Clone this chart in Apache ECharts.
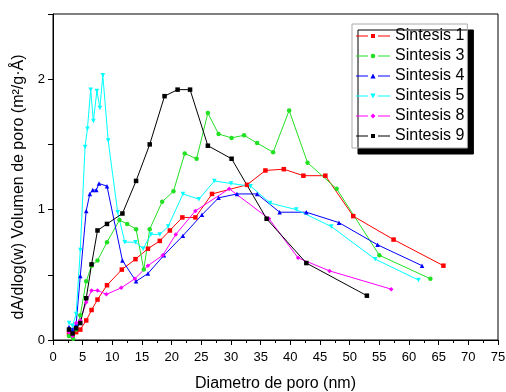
<!DOCTYPE html>
<html>
<head>
<meta charset="utf-8">
<script src="https://cdn.jsdelivr.net/npm/echarts@6/dist/echarts.min.js"></script>
<style>
html, body { margin: 0; padding: 0; background: #fff; }
#chart { width: 506px; height: 392px; }
</style>
</head>
<body>
<div id="chart"></div>
<script>
// x = diametro (nm), y = dA/dlog(w)
var sintesis1 = [[2.7,0.05],[3.3,0.04],[3.9,0.06],[4.6,0.08],[5.6,0.15],[6.5,0.23],[7.5,0.31],[9.1,0.42],[11.6,0.54],[13.9,0.62],[16.0,0.70],[18.0,0.76],[19.7,0.84],[21.8,0.94],[24.0,0.94],[26.8,1.12],[32.7,1.19],[35.8,1.30],[38.9,1.31],[42.2,1.26],[45.9,1.26],[50.6,0.95],[57.4,0.77],[65.8,0.57]];
var sintesis3 = [[2.7,0.03],[3.4,0.01],[3.9,0.08],[4.6,0.19],[5.6,0.45],[6.5,0.57],[7.5,0.61],[9.1,0.75],[11.2,0.92],[12.5,0.89],[14.0,0.85],[15.3,0.54],[16.3,0.85],[18.4,1.06],[20.3,1.14],[22.2,1.43],[24.2,1.39],[26.1,1.74],[27.9,1.58],[30.1,1.55],[32.2,1.57],[34.4,1.51],[37.1,1.44],[39.8,1.76],[42.9,1.36],[47.8,1.16],[55.0,0.65],[63.6,0.47]];
var sintesis4 = [[2.7,0.10],[3.3,0.08],[3.9,0.12],[4.6,0.49],[5.6,0.99],[6.2,1.12],[6.7,1.15],[7.3,1.15],[7.75,1.20],[9.1,1.18],[11.7,0.61],[14.0,0.45],[16.0,0.51],[18.7,0.65],[21.9,0.80],[25.1,0.96],[27.9,1.09],[31.0,1.12],[34.4,1.12],[38.2,0.98],[42.7,0.98],[48.2,0.90],[54.7,0.73],[62.2,0.57]];
var sintesis5 = [[2.7,0.13],[3.3,0.11],[3.9,0.20],[4.6,0.69],[5.4,1.48],[5.8,1.62],[6.35,1.92],[6.8,1.68],[7.4,1.91],[7.9,1.78],[8.4,2.03],[9.3,1.53],[10.9,0.98],[12.1,0.75],[13.9,0.75],[15.2,0.70],[16.5,0.81],[18.0,0.81],[19.4,0.87],[21.9,1.12],[24.6,1.08],[27.2,1.22],[30.0,1.20],[33.3,1.18],[36.6,1.05],[41.0,1.00],[46.9,0.87],[54.3,0.62],[61.6,0.46]];
var sintesis8 = [[2.7,0.06],[3.3,0.03],[3.9,0.13],[4.6,0.15],[5.6,0.29],[6.5,0.38],[7.5,0.38],[9.0,0.35],[11.5,0.40],[13.8,0.47],[16.0,0.57],[18.5,0.65],[20.7,0.81],[24.0,0.99],[29.7,1.16],[36.4,0.93],[41.3,0.63],[46.6,0.53],[57.0,0.39]];
var sintesis9 = [[2.7,0.08],[3.3,0.05],[3.9,0.09],[4.6,0.13],[5.6,0.32],[6.5,0.58],[7.5,0.84],[9.1,0.89],[11.7,0.97],[14.0,1.22],[16.3,1.50],[18.8,1.87],[21.0,1.92],[23.1,1.92],[26.1,1.49],[30.1,1.39],[36.0,0.93],[42.7,0.59],[52.9,0.34]];

var seriesNames = ['Sintesis 1', 'Sintesis 3', 'Sintesis 4', 'Sintesis 5', 'Sintesis 8', 'Sintesis 9'];
var seriesData = [sintesis1, sintesis3, sintesis4, sintesis5, sintesis8, sintesis9];
var colors = ['#ff0000', '#22e022', '#0000ff', '#00ffff', '#ff00ff', '#000000'];
var symbols = ['rect', 'circle', 'triangle', 'triangle', 'diamond', 'rect'];
var rotates = [0, 0, 0, 180, 0, 0];

// legend sample: line - marker - line (34 x 5 box)
var legLine = 'M0,2h12v1h-12z M22,2h12v1h-12z ';
var legMarks = {
    rect: 'M15,0.5h4v4h-4z M17,0v0 M17,5v0',
    circle: 'M19.3,2.5 A2.3,2.3 0 1 1 14.7,2.5 A2.3,2.3 0 1 1 19.3,2.5z M17,0v0 M17,5v0',
    triangle: 'M17,0 L19.6,5 L14.4,5z',
    triangleDown: 'M14.4,0 L19.6,0 L17,5z',
    diamond: 'M17,0 L19.5,2.5 L17,5 L14.5,2.5z'
};

var chart = echarts.init(document.getElementById('chart'));

var series = [];
var legendData = [];
for (var i = 0; i < seriesNames.length; i++) {
    series.push({
        name: seriesNames[i],
        type: 'line',
        data: seriesData[i],
        symbol: symbols[i],
        symbolRotate: rotates[i],
        symbolSize: 4.5,
        showAllSymbol: true,
        animation: false,
        lineStyle: {color: colors[i], width: 1},
        itemStyle: {color: colors[i]}
    });
    var mk = rotates[i] === 180 ? 'triangleDown' : symbols[i];
    legendData.push({
        name: seriesNames[i],
        icon: 'path://' + legLine + legMarks[mk],
        itemStyle: {color: colors[i]}
    });
}

var option = {
    backgroundColor: '#fff',
    textStyle: {fontFamily: 'Liberation Sans'},
    color: colors,
    legend: {
        data: legendData,
        orient: 'vertical',
        left: 352,
        top: 24,
        width: 114,
        padding: [3, 3, 3, 4],
        itemGap: 2,
        itemWidth: 34,
        itemHeight: 5,
        backgroundColor: '#fff',
        borderColor: '#aaa',
        borderWidth: 1,
        shadowColor: '#000',
        shadowBlur: 0,
        shadowOffsetX: 6,
        shadowOffsetY: 6,
        textStyle: {fontSize: 16, color: '#000', lineHeight: 18}
    },
    grid: {
        left: 53,
        right: 8,
        top: 14,
        bottom: 52,
        outerBoundsMode: 'none',
        show: true,
        borderColor: '#000',
        borderWidth: 1,
        backgroundColor: 'transparent'
    },
    xAxis: {
        type: 'value',
        min: 0,
        max: 75,
        interval: 5,
        name: 'Diametro de poro (nm)',
        nameLocation: 'middle',
        nameGap: 36,
        nameTextStyle: {fontSize: 16, color: '#000'},
        axisLine: {lineStyle: {color: '#000'}},
        axisTick: {length: 5, lineStyle: {color: '#000'}},
        minorTick: {show: true, splitNumber: 2, length: 3, lineStyle: {color: '#000'}},
        axisLabel: {fontSize: 13, color: '#000', margin: 11},
        splitLine: {show: false}
    },
    yAxis: {
        type: 'value',
        min: 0,
        max: 2.5,
        interval: 0.5,
        name: 'dA/dlog(w) Volumen de poro (m²/g·Å)',
        nameLocation: 'middle',
        nameGap: 23,
        nameTextStyle: {fontSize: 16, color: '#000', padding: [0, 20, 0, 0]},
        axisLine: {lineStyle: {color: '#000'}},
        axisTick: {length: 5, lineStyle: {color: '#000'}},
        axisLabel: {
            fontSize: 13,
            color: '#000',
            margin: 8,
            formatter: function (v) {
                return v % 1 === 0 ? String(v) : '';
            }
        },
        splitLine: {show: false}
    },
    series: series
};

chart.setOption(option);
window.onresize = chart.resize;
</script>
</body>
</html>
